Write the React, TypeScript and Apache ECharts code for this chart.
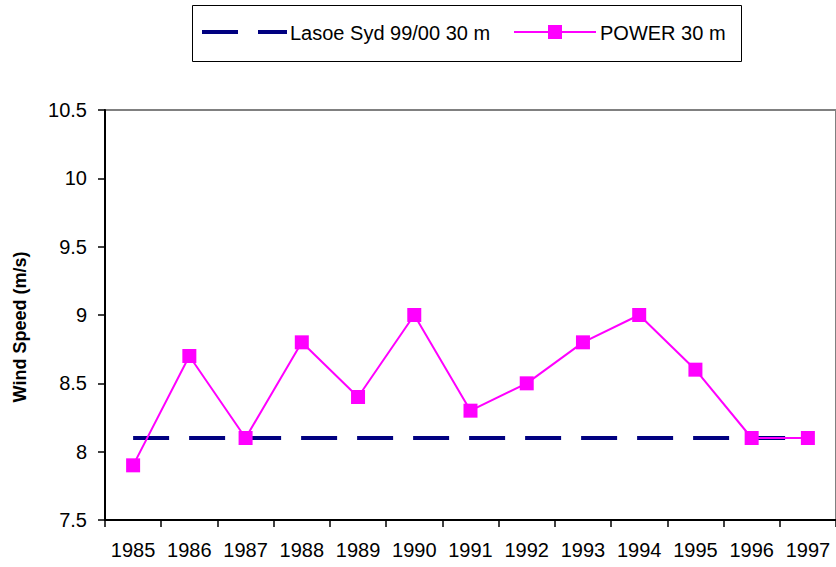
import React, { useEffect, useRef } from "react";
import * as echarts from "echarts";

const years = ["1985", "1986", "1987", "1988", "1989", "1990", "1991", "1992", "1993", "1994", "1995", "1996", "1997"];
const lasoe = [8.1, 8.1, 8.1, 8.1, 8.1, 8.1, 8.1, 8.1, 8.1, 8.1, 8.1, 8.1, 8.1];
const power = [7.9, 8.7, 8.1, 8.8, 8.4, 9.0, 8.3, 8.5, 8.8, 9.0, 8.6, 8.1, 8.1];
const seriesNames = ["Lasoe Syd 99/00 30 m", "POWER 30 m"];
const yTitle = "Wind Speed (m/s)";

const FONT = "'Liberation Sans', Arial, sans-serif";
const NAVY = "#000080";
const MAGENTA = "#FF00FF";

export default function App() {
  const ref = useRef<HTMLDivElement>(null);
  useEffect(() => {
    document.body.style.margin = "0";
    const chart = echarts.init(ref.current!, null, { renderer: "svg" });
    chart.setOption({
      animation: false,
      backgroundColor: "#ffffff",
      textStyle: { fontFamily: FONT },
      grid: {
        left: 105,
        top: 110,
        right: -6,
        bottom: 47,
        show: true,
        borderColor: "#808080",
        borderWidth: 2,
      },
      xAxis: {
        type: "category",
        data: years,
        boundaryGap: true,
        axisLine: { lineStyle: { color: "#000", width: 2 } },
        axisTick: { show: true, length: 7, lineStyle: { color: "#000", width: 1.5 } },
        axisLabel: { color: "#000", fontSize: 20, fontFamily: FONT, margin: 20, interval: 0 },
        splitLine: { show: false },
      },
      yAxis: {
        type: "value",
        min: 7.5,
        max: 10.5,
        interval: 0.5,
        axisLine: { show: true, lineStyle: { color: "#000", width: 2 } },
        axisTick: { show: true, length: 7, lineStyle: { color: "#000", width: 1.5 } },
        axisLabel: { color: "#000", fontSize: 20, fontFamily: FONT, margin: 18 },
        splitLine: { show: false },
      },
      series: [
        {
          name: seriesNames[0],
          type: "line",
          data: lasoe,
          symbol: "none",
          lineStyle: { color: NAVY, width: 4, type: [36, 20] },
          z: 2,
        },
        {
          name: seriesNames[1],
          type: "line",
          data: power,
          symbol: "rect",
          symbolSize: 14,
          itemStyle: { color: MAGENTA },
          lineStyle: { color: MAGENTA, width: 2 },
          z: 3,
        },
      ],
      graphic: [
        {
          type: "rect",
          shape: { x: 192.5, y: 5.5, width: 549, height: 56 },
          style: { fill: "#fff", stroke: "#000", lineWidth: 1 },
        },
        {
          type: "line",
          shape: { x1: 202, y1: 32, x2: 238, y2: 32 },
          style: { stroke: NAVY, lineWidth: 4 },
        },
        {
          type: "line",
          shape: { x1: 258, y1: 32, x2: 287, y2: 32 },
          style: { stroke: NAVY, lineWidth: 4 },
        },
        {
          type: "text",
          x: 290,
          y: 33,
          style: { text: seriesNames[0], fontSize: 20, fontFamily: FONT, fill: "#000", verticalAlign: "middle", align: "left" },
        },
        {
          type: "line",
          shape: { x1: 514, y1: 32, x2: 596, y2: 32 },
          style: { stroke: MAGENTA, lineWidth: 2 },
        },
        {
          type: "rect",
          shape: { x: 548, y: 25, width: 14, height: 14 },
          style: { fill: MAGENTA },
        },
        {
          type: "text",
          x: 600,
          y: 33,
          style: { text: seriesNames[1], fontSize: 20, fontFamily: FONT, fill: "#000", verticalAlign: "middle", align: "left" },
        },
        {
          type: "text",
          x: 20,
          y: 327,
          rotation: Math.PI / 2,
          style: { text: yTitle, fontSize: 18, fontWeight: "bold", fontFamily: FONT, fill: "#000", verticalAlign: "middle", align: "center" },
        },
      ],
    });
    return () => chart.dispose();
  }, []);
  return <div ref={ref} style={{ width: 836, height: 567 }} />;
}
